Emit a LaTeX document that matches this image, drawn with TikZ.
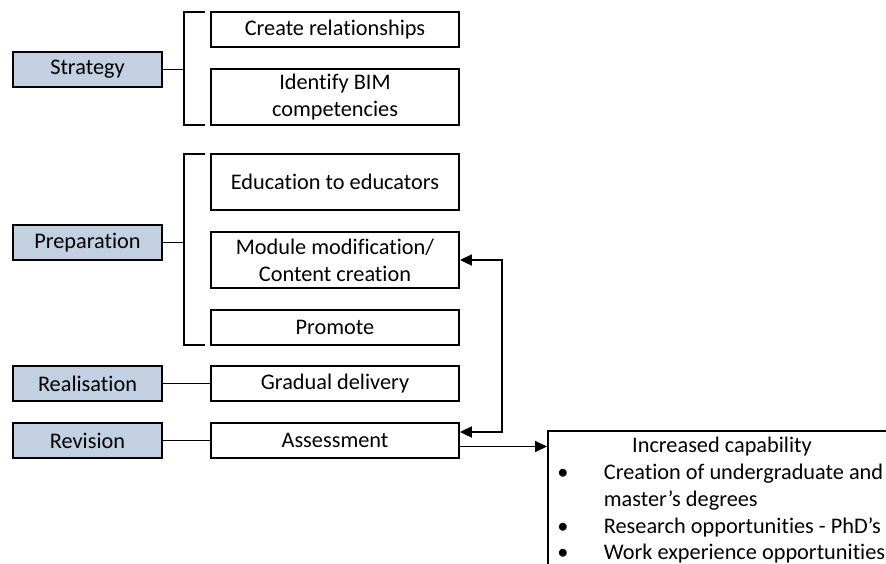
\documentclass[tikz,border=0pt]{standalone}
\usepackage{fontspec}
\setmainfont{Carlito}[RawFeature={-liga;-clig;-calt}]
\usepackage{tikz}
\usetikzlibrary{positioning}
\usetikzlibrary{arrows.meta}

\definecolor{phase}{RGB}{194,208,226}

\begin{document}
\begin{tikzpicture}[x=1pt,y=-1pt,line width=1.8pt,>={Triangle[length=12pt,width=11pt]}]
    \tikzstyle{every node}=[font=\fontsize{22.3}{27}\selectfont]
    \tikzstyle{phase}=[draw, fill=phase, minimum width=149, minimum height=35, inner sep=0pt]
    \tikzstyle{task}=[draw, fill=white, minimum width=248, minimum height=35, inner sep=0pt, align=center]
    \tikzstyle{tall}=[task, minimum height=56]
    \tikzstyle{line}=[anchor=base west, inner sep=0pt]
    \path[use as bounding box, clip] (0,0) rectangle (886,563);

    % phases
    \node[phase] (strategy) at (87.5,69.5) {Strategy};
    \node[phase] (preparation) at (87.5,242.5) {Preparation};
    \node[phase] (realisation) at (87.5,383.5) {Realisation};
    \node[phase] (revision) at (87.5,440.5) {Revision};

    % tasks
    \node[task] (relations) at (335,29.5) {Create relationships};
    \node[tall] (competencies) at (335,97) {Identify BIM\\competencies};
    \node[tall] (educators) at (335,182) {Education to educators};
    \node[tall] (modules) at (335,260) {Module modification/\\Content creation};
    \node[task] (promote) at (335,327.5) {Promote};
    \node[task] (delivery) at (335,383.5) {Gradual delivery};
    \node[task] (assessment) at (335,440.5) {Assessment};

    % brackets
    \coordinate (sb) at (184,69.5);
    \coordinate (pb) at (184,242.5);
    \draw (strategy.east) -- (sb);
    \draw (205,12) -- (184,12) -- (184,125) -- (205,125);
    \draw (preparation.east) -- (pb);
    \draw (205,154) -- (184,154) -- (184,345) -- (205,345);
    \draw (realisation) -- (delivery);
    \draw (revision) -- (assessment);

    % feedback loop (yshift is in pt, so positive is up here)
    \coordinate (loop) at (502,260);
    \draw[<->] (modules.east) -- (loop) |- ([yshift=8.5]assessment.east);

    % outcome
    \node[draw, fill=white, anchor=north west, minimum width=360, minimum height=160] (outcome) at (547,430) {};
    \coordinate (into) at (547,446.5);
    \draw[->] ([yshift=-6]assessment.east) -- (into);
    \node[anchor=base] (capability) at (722,452) {Increased capability};
    \node[anchor=base] (dot1) at (563,479) {\textbullet};
    \node[line] (degrees) at (603,479) {Creation of undergraduate and};
    \node[line] (masters) at (603,506) {master’s degrees};
    \node[anchor=base] (dot2) at (563,533) {\textbullet};
    \node[line] (research) at (603,533) {Research opportunities - PhD’s};
    \node[anchor=base] (dot3) at (563,559) {\textbullet};
    \node[line] (work) at (603,559) {Work experience opportunities};
\end{tikzpicture}
\end{document}
